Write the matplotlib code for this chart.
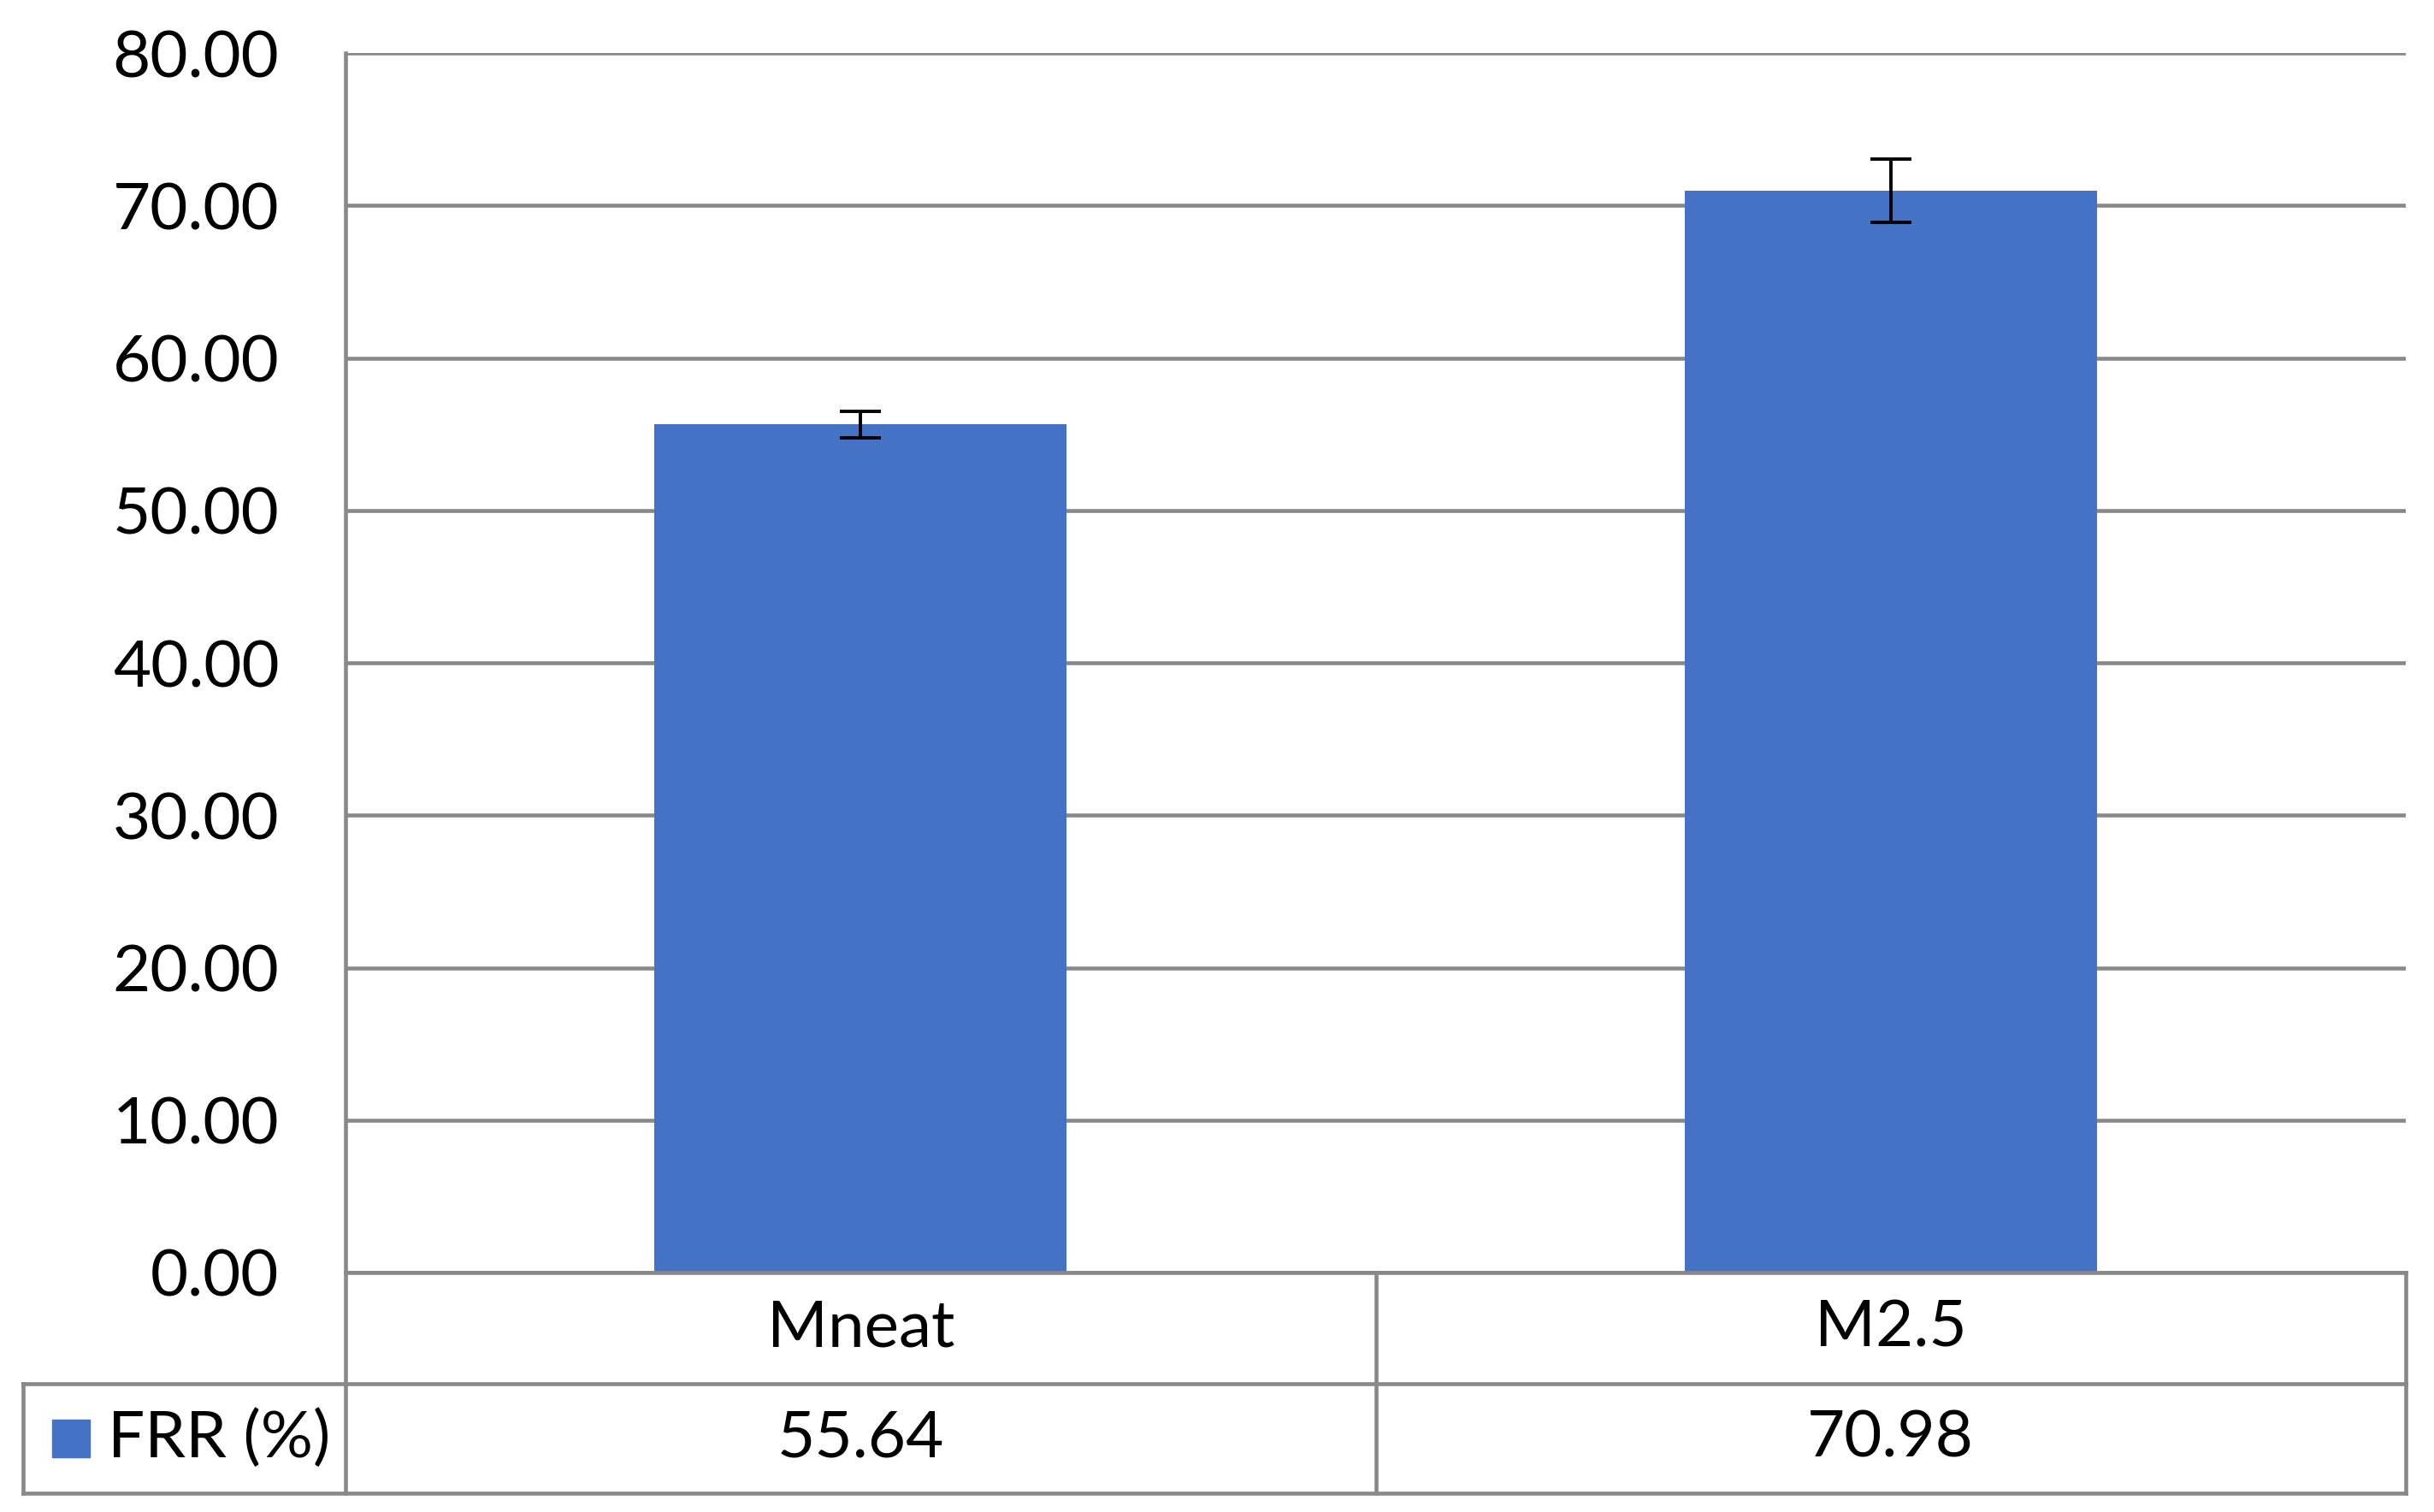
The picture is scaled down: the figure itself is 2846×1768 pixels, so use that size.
import matplotlib.pyplot as plt
import matplotlib.transforms as mtransforms
import numpy as np

categories = ["Mneat", "M2.5"]
frr = [55.64, 70.98]
frr_err = [0.88, 2.05]
series_name = "FRR (%)"
yticks = [0, 10, 20, 30, 40, 50, 60, 70, 80]

bar_color = "#4472C4"
grid_color = "#898989"
lw = 3.3
fs = 55

plt.rcParams["font.family"] = ["Lato", "DejaVu Sans"]

fig = plt.figure(figsize=(28.46, 17.68), dpi=100)
ax = fig.add_axes([0.142, 0.1584, 0.8464, 0.8064])

x = np.arange(len(categories))
ax.bar(x, frr, width=0.4, color=bar_color, zorder=3)
ax.errorbar(x, frr, yerr=frr_err, fmt="none", ecolor="black",
            elinewidth=2.8, capsize=17, capthick=2.8, zorder=4)

ax.set_xlim(-0.5, len(categories) - 0.5)
ax.set_ylim(0, 80)
ax.set_yticks(yticks)
ax.set_yticklabels([f"{v:.2f}" for v in yticks], fontsize=fs)
ax.tick_params(axis="y", length=0, pad=56)
ax.yaxis.grid(True, color=grid_color, linewidth=lw, zorder=0)
ax.set_axisbelow(True)
for s in ["top", "right", "bottom", "left"]:
    ax.spines[s].set_visible(False)

# category labels live in the first row of the data table
ax.set_xticks(x)
ax.set_xticklabels([])
ax.tick_params(axis="x", length=0)

# data table under the plot
row1 = -0.0911
row2 = -0.181
leg_left = -0.1564
kw = dict(transform=ax.transAxes, color=grid_color, lw=lw, clip_on=False,
          solid_capstyle="projecting", zorder=5)
ax.plot([0, 1], [0, 0], **kw)
ax.plot([leg_left, 1], [row1, row1], **kw)
ax.plot([leg_left, 1], [row2, row2], **kw)
ax.plot([0, 0], [1, row2], **kw)
ax.plot([1, 1], [0, row2], **kw)
ax.plot([0.5, 0.5], [0, row2], **kw)
ax.plot([leg_left, leg_left], [row1, row2], **kw)

blend = mtransforms.blended_transform_factory(ax.transData, ax.transAxes)
for xi, cat, v in zip(x, categories, frr):
    ax.text(xi, row1 / 2, cat, transform=blend, ha="center", va="center",
            fontsize=fs)
    ax.text(xi, (row1 + row2) / 2, f"{v:.2f}", transform=blend,
            ha="center", va="center", fontsize=fs)

ax.add_patch(plt.Rectangle((-0.1424, (row1 + row2) / 2 - 0.0155), 0.0182, 0.031,
                           transform=ax.transAxes, color=bar_color,
                           clip_on=False))
ax.text(-0.1335 + 0.0182, (row1 + row2) / 2, series_name, transform=ax.transAxes,
        ha="left", va="center", fontsize=fs)

fig.savefig("out.png", dpi=100)
